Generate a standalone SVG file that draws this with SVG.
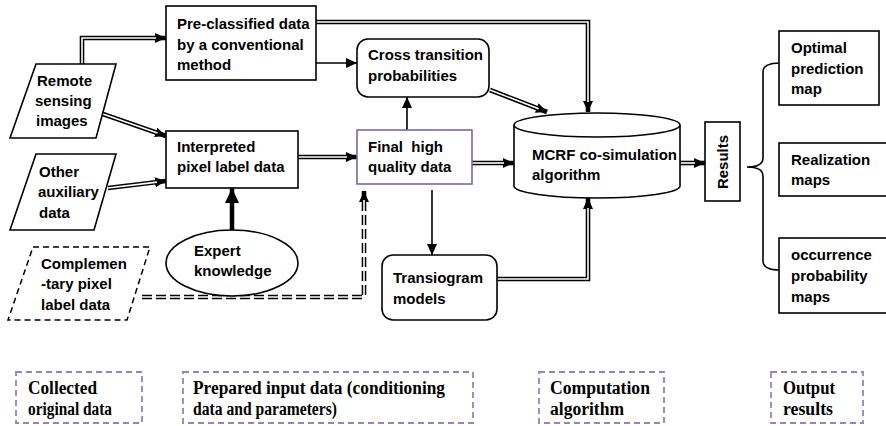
<svg xmlns="http://www.w3.org/2000/svg" width="886" height="426" viewBox="0 0 886 426">
<defs>
<style>
.t{font-family:"Liberation Sans",Arial,sans-serif;font-weight:bold;font-size:15px;fill:#000}
.lg{font-family:"Liberation Serif","Times New Roman",serif;font-weight:bold;font-size:18px;fill:#000}
.box{fill:#fff;stroke:#000;stroke-width:1.6}
.pbox{fill:#fff;stroke:#8064A2;stroke-width:1.6}
.dbox{fill:none;stroke:#000;stroke-width:1.5;stroke-dasharray:6 4}
.leg{fill:none;stroke:#9680c8;stroke-width:1.8;stroke-dasharray:6 4}
.s{fill:none;stroke:#000;stroke-width:1.6}
.db{fill:none;stroke:#000;stroke-width:4.6}
.dw{fill:none;stroke:#fff;stroke-width:1.6}
.dd{fill:none;stroke:#000;stroke-width:4.6;stroke-dasharray:10 4}
</style>
<marker id="ah" markerUnits="userSpaceOnUse" markerWidth="12" markerHeight="10" refX="11" refY="5" orient="auto">
<path d="M0,0 L11,5 L0,10 Z" fill="#000"/>
</marker>
<marker id="ahb" markerUnits="userSpaceOnUse" markerWidth="16" markerHeight="14" refX="15" refY="7" orient="auto">
<path d="M0,0 L15,7 L0,14 Z" fill="#000"/>
</marker>
</defs>
<rect width="886" height="426" fill="#fff"/>

<g id="connectors">
<path class="db" d="M82,64 L82,38 L166,38" marker-end="url(#ah)"/>
<path class="dw" d="M82,64 L82,38 L156,38"/>
<path class="db" d="M100,113 L166,136" marker-end="url(#ah)"/>
<path class="dw" d="M100,113 L157.5,133"/>
<path class="db" d="M108,188 L166,181" marker-end="url(#ah)"/>
<path class="dw" d="M108,188 L157,182.1"/>
<path d="M232,230 L232,188" fill="none" stroke="#000" stroke-width="4.5" marker-end="url(#ahb)"/>
<path class="db" d="M298,157 L357,157" marker-end="url(#ah)"/>
<path class="dw" d="M298,157 L347,157"/>
<path class="dd" d="M142,297 L364,297 L364,191" marker-end="url(#ah)"/>
<path class="dw" d="M142,297 L364,297 L364,200"/>
<path class="s" d="M316,63 L357,63" marker-end="url(#ah)"/>
<path class="s" d="M407,130 L407,97" marker-end="url(#ah)"/>
<path class="s" d="M432,190 L432,255" marker-end="url(#ah)"/>
<path class="db" d="M316,22 L588,22 L588,112" marker-end="url(#ah)"/>
<path class="dw" d="M316,22 L588,22 L588,102"/>
<path class="db" d="M490,90 L547,112" marker-end="url(#ah)"/>
<path class="dw" d="M490,90 L538.6,108.8"/>
<path class="db" d="M472,163 L514,163" marker-end="url(#ah)"/>
<path class="dw" d="M472,163 L504,163"/>
<path class="db" d="M497,279 L588,279 L588,198" marker-end="url(#ah)"/>
<path class="dw" d="M497,279 L588,279 L588,208"/>
<path class="db" d="M680,163 L705,163" marker-end="url(#ah)"/>
<path class="dw" d="M680,163 L695,163"/>
<path class="s" d="M780,63 Q763,63 763,72 L763,158 Q763,167 747,167 Q763,167 763,176 L763,261 Q763,270 780,270"/>
</g>

<g id="preclassified">
<rect class="box" x="166" y="6" width="150" height="74"/>
<text class="t" x="177" y="29">Pre-classified data</text>
<text class="t" x="177" y="50">by a conventional</text>
<text class="t" x="177" y="70">method</text>
</g>

<g id="remote">
<polygon class="box" points="36,64 116,64 96,138 10,138"/>
<text class="t" x="37" y="86">Remote</text>
<text class="t" x="35" y="106">sensing</text>
<text class="t" x="36" y="126">images</text>
</g>

<g id="other">
<polygon class="box" points="36,154 116,154 94,230 10,230"/>
<text class="t" x="39" y="177">Other</text>
<text class="t" x="38" y="197">auxiliary</text>
<text class="t" x="39" y="218">data</text>
</g>

<g id="complementary">
<polygon class="dbox" points="33,247 150,247 127,320 8,320"/>
<text class="t" x="41" y="269">Complemen</text>
<text class="t" x="41" y="289">-tary pixel</text>
<text class="t" x="41" y="310">label data</text>
</g>

<g id="interpreted">
<rect class="box" x="166" y="131" width="132" height="57"/>
<text class="t" x="177" y="152">Interpreted</text>
<text class="t" x="177" y="172">pixel label data</text>
</g>

<g id="expert">
<ellipse class="box" cx="232" cy="263" rx="66" ry="33"/>
<text class="t" x="194" y="256">Expert</text>
<text class="t" x="194" y="276">knowledge</text>
</g>

<g id="cross">
<rect class="box" x="357" y="39" width="132" height="58" rx="11"/>
<text class="t" x="368" y="60">Cross transition</text>
<text class="t" x="368" y="81">probabilities</text>
</g>

<g id="final">
<rect class="pbox" x="357" y="130" width="115" height="54"/>
<text class="t" x="368" y="152" xml:space="preserve">Final  high</text>
<text class="t" x="368" y="172">quality data</text>
</g>

<g id="transiogram">
<rect class="box" x="382" y="255" width="115" height="65" rx="11"/>
<text class="t" x="393" y="283">Transiogram</text>
<text class="t" x="393" y="304">models</text>
</g>

<g id="mcrf">
<path class="box" d="M514,125 A83,12 0 0 1 680,125 L680,186 A83,12 0 0 1 514,186 Z"/>
<path class="s" d="M514,125 A83,12 0 0 0 680,125"/>
<text class="t" x="532" y="160">MCRF co-simulation</text>
<text class="t" x="532" y="180">algorithm</text>
</g>

<g id="results">
<rect class="box" x="705" y="122" width="35" height="79"/>
<text class="t" transform="translate(728,162) rotate(-90)" text-anchor="middle">Results</text>
</g>

<g id="optimal">
<rect class="box" x="779" y="31" width="100" height="74"/>
<text class="t" x="791" y="53">Optimal</text>
<text class="t" x="791" y="74">prediction</text>
<text class="t" x="791" y="94">map</text>
</g>

<g id="realization">
<rect class="box" x="779" y="143" width="112" height="53"/>
<text class="t" x="791" y="165">Realization</text>
<text class="t" x="791" y="185">maps</text>
</g>

<g id="occurrence">
<rect class="box" x="779" y="238" width="112" height="75"/>
<text class="t" x="791" y="260">occurrence</text>
<text class="t" x="791" y="281">probability</text>
<text class="t" x="791" y="302">maps</text>
</g>

<g id="legend-collected">
<rect class="leg" x="16" y="372" width="126" height="51"/>
<text class="lg" x="28" y="394" textLength="69" lengthAdjust="spacingAndGlyphs">Collected</text>
<text class="lg" x="28" y="415" textLength="84" lengthAdjust="spacingAndGlyphs">original data</text>
</g>
<g id="legend-prepared">
<rect class="leg" x="183" y="372" width="290" height="51"/>
<text class="lg" x="193" y="394" textLength="252" lengthAdjust="spacingAndGlyphs">Prepared input data (conditioning</text>
<text class="lg" x="193" y="415" textLength="144" lengthAdjust="spacingAndGlyphs">data and parameters)</text>
</g>
<g id="legend-computation">
<rect class="leg" x="539" y="372" width="125" height="51"/>
<text class="lg" x="550" y="394" textLength="100" lengthAdjust="spacingAndGlyphs">Computation</text>
<text class="lg" x="550" y="415" textLength="74" lengthAdjust="spacingAndGlyphs">algorithm</text>
</g>
<g id="legend-output">
<rect class="leg" x="771" y="372" width="92" height="51"/>
<text class="lg" x="783" y="394" textLength="52" lengthAdjust="spacingAndGlyphs">Output</text>
<text class="lg" x="783" y="415" textLength="50" lengthAdjust="spacingAndGlyphs">results</text>
</g>
</svg>
